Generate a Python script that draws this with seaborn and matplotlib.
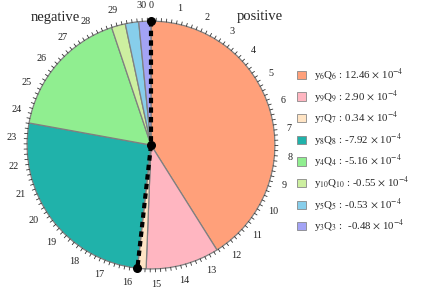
import numpy as np
import seaborn as sns
import matplotlib.pyplot as plt
from matplotlib.patches import Patch

# data (units of 1e-4), order clockwise from the top
labels = ["y$_6$Q$_6$", "y$_9$Q$_9$", "y$_7$Q$_7$", "y$_8$Q$_8$",
          "y$_4$Q$_4$", "y$_{10}$Q$_{10}$", "y$_5$Q$_5$", "y$_3$Q$_3$"]
values = [12.46, 2.90, 0.34, -7.92, -5.16, -0.55, -0.53, -0.48]
value_text = ["12.46", "2.90", "0.34", "-7.92", "-5.16", "-0.55", "-0.53", " -0.48"]
colors = ["#FFA07A", "#FFB6C1", "#FFE4C4", "#20B2AA",
          "#90EE90", "#CDEFA0", "#87CEEB", "#A3A3F5"]
tick_labels = list(range(0, 31))

sns.set_theme(style="white")
plt.rcParams["font.family"] = ["Liberation Serif", "DejaVu Serif"]
plt.rcParams["mathtext.fontset"] = "stix"

sizes = np.abs(values)
total = sizes.sum()

fig = plt.figure(figsize=(4.23, 2.92), dpi=100)
ax = fig.add_axes([0.0052, 0.0068, 0.7035, 0.993])

ax.pie(sizes, colors=colors, startangle=90, counterclock=False, radius=1,
       wedgeprops=dict(edgecolor="#808080", linewidth=0.9))
ax.set_xlim(-1.2, 1.2)
ax.set_ylim(-1.17, 1.17)
ax.set_aspect("equal")
ax.axis("off")


def pos(v, r):
    a = np.deg2rad(90 - 360 * v / total)
    return r * np.cos(a), r * np.sin(a)


# outer scale ticks
for v in np.arange(0, total, 0.2):
    x0, y0 = pos(v, 1.0)
    x1, y1 = pos(v, 1.025)
    ax.plot([x0, x1], [y0, y1], color="#333333", lw=0.6, clip_on=False)
for t in tick_labels:
    x, y = pos(t, 1.125)
    ax.text(x, y, str(t), ha="center", va="center", fontsize=7.3, color="#222222", clip_on=False)

# positive / negative split line
pos_total = sum(v for v in values if v > 0)
xe, ye = pos(pos_total, 1.0)
ax.plot([0, 0, xe], [1, 0, ye], color="black", lw=3, dashes=(1.3, 1.0), zorder=5)
ax.scatter([0, 0, xe], [1, 0, ye], s=30, color="black", zorder=6, clip_on=False)

fig.text(0.13, 0.94, "negative", fontsize=10.5, ha="center", va="center")
fig.text(0.615, 0.945, "positive", fontsize=10.5, ha="center", va="center")

handles = [Patch(facecolor=c, edgecolor="#888888", linewidth=0.6) for c in colors]
leg_labels = [f"{l} : {t} $\\times$ 10$^{{-4}}$" for l, t in zip(labels, value_text)]
fig.legend(handles, leg_labels, loc="upper left", bbox_to_anchor=(0.69, 0.79),
           frameon=False, fontsize=7.8, labelspacing=0.42, handlelength=0.8,
           handleheight=0.8, handletextpad=0.7, borderpad=0)

plt.savefig("out.png", dpi=100)
